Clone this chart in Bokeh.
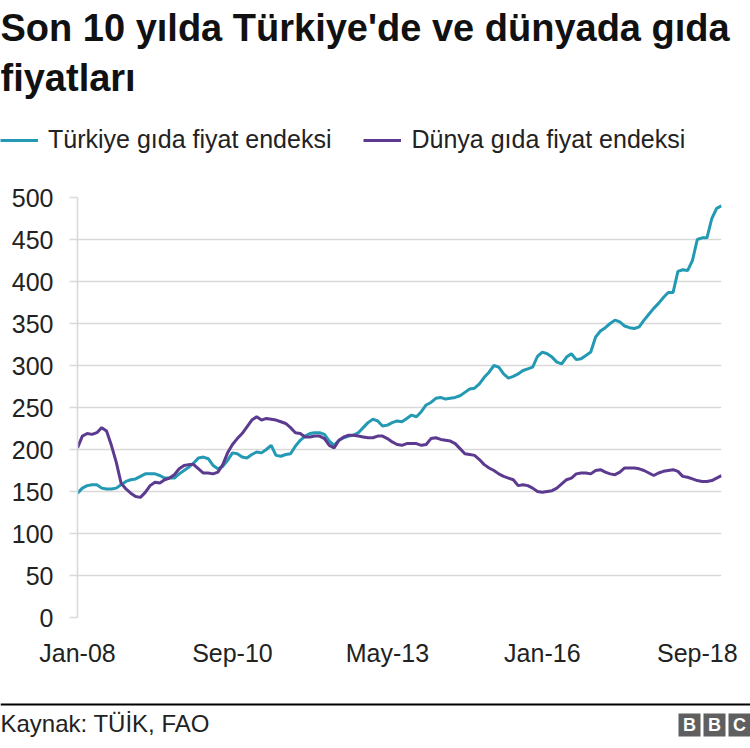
from bokeh.plotting import figure
from bokeh.models import Range1d, FixedTicker, Label, BoxAnnotation, Span
from bokeh.layouts import column
from bokeh.embed import file_html
from bokeh.resources import INLINE

# ---- data (monthly, Jan-08 .. Feb-19) ----
turkiye = [148, 154, 157, 158, 158, 154, 153, 153, 154, 158, 162, 164, 165, 168, 171, 171, 171, 169, 166, 166,
           166, 171, 175, 179, 184, 190, 191, 189, 181, 177, 180, 187, 196, 195, 191, 190, 194, 197, 196, 200,
           205, 193, 192, 194, 195, 204, 211, 216, 219, 220, 220, 218, 210, 205, 211, 214, 216, 217, 220, 226,
           232, 236, 234, 228, 229, 232, 234, 233, 237, 241, 239, 245, 253, 256, 261, 262, 260, 261, 262, 264,
           268, 272, 273, 278, 286, 292, 300, 298, 290, 285, 287, 290, 294, 296, 298, 311, 316, 314, 310, 304,
           302, 310, 314, 307, 308, 312, 316, 334, 341, 345, 350, 354, 352, 347, 345, 344, 346, 354, 361, 368,
           374, 381, 387, 387, 412, 414, 413, 425, 450, 452, 452, 475, 487, 490]
dunya = [202, 216, 219, 218, 220, 226, 222, 205, 185, 160, 153, 148, 144, 143, 149, 157, 161, 160, 164, 166,
         170, 177, 181, 182, 182, 177, 172, 172, 171, 173, 182, 196, 206, 213, 219, 227, 235, 239, 235, 237,
         236, 235, 233, 231, 226, 220, 219, 215, 215, 216, 216, 213, 205, 202, 211, 215, 217, 217, 216, 215,
         214, 214, 216, 216, 213, 209, 206, 205, 207, 207, 207, 205, 206, 213, 214, 212, 211, 210, 207, 201,
         195, 194, 193, 188, 182, 178, 175, 171, 168, 166, 164, 157, 158, 157, 154, 150, 149, 150, 151, 154,
         159, 164, 166, 171, 172, 172, 171, 175, 176, 173, 171, 170, 173, 178, 178, 178, 177, 175, 172, 169,
         172, 174, 175, 176, 174, 168, 167, 165, 163, 162, 162, 163, 166, 169]
months = list(range(len(turkiye)))
tick_months = [0, 32, 64, 96, 128]
tick_labels = ["Jan-08", "Sep-10", "May-13", "Jan-16", "Sep-18"]
y_ticks = [0, 50, 100, 150, 200, 250, 300, 350, 400, 450, 500]
series_names = ["Türkiye gıda fiyat endeksi", "Dünya gıda fiyat endeksi"]
title_lines = ["Son 10 yılda Türkiye'de ve dünyada gıda", "fiyatları"]
source_text = "Kaynak: TÜİK, FAO"

CYAN = "#2399b4"
PURPLE = "#5c3a8f"
GRID = "#d9d9d9"
FONT = "Liberation Sans"
TXT = "#222222"
NAN = float("nan")

W = 750
HEAD_H, MAIN_H, FOOT_H = 177, 506, 65


def blank(h):
    f = figure(width=W, height=h, output_backend="svg", toolbar_location=None,
               x_range=Range1d(0, W), y_range=Range1d(0, h),
               x_axis_type=None, y_axis_type=None, min_border=0)
    f.frame_align = False
    f.outline_line_color = None
    f.grid.visible = False
    f.background_fill_color = "white"
    f.border_fill_color = "white"
    return f


# ---- header: title + legend ----
head = blank(HEAD_H)
head.add_layout(Label(x=0, y=HEAD_H - 27, text=title_lines[0], text_font=FONT, text_font_size="38px",
                      text_font_style="bold", text_color="#111111", text_baseline="middle"))
head.add_layout(Label(x=0, y=HEAD_H - 77, text=title_lines[1], text_font=FONT, text_font_size="38px",
                      text_font_style="bold", text_color="#111111", text_baseline="middle"))
head.line(x=[NAN], y=[NAN], line_color=CYAN, line_width=3, legend_label=series_names[0])
head.line(x=[NAN], y=[NAN], line_color=PURPLE, line_width=3, legend_label=series_names[1])
lg = head.legend[0]
lg.orientation = "horizontal"
lg.location = (0, 23)
lg.glyph_width = 38
lg.glyph_height = 20
lg.label_standoff = 10
lg.spacing = 32
lg.padding = 0
lg.margin = 0
lg.border_line_color = None
lg.background_fill_alpha = 0
lg.label_text_font = FONT
lg.label_text_font_size = "25px"
lg.label_text_color = TXT

# ---- main chart ----
p = figure(width=W, height=MAIN_H, output_backend="svg", toolbar_location=None,
           x_range=Range1d(0, len(months) - 1), y_range=Range1d(0, 500),
           min_border_left=77, min_border_right=29, min_border_top=20, min_border_bottom=66)
p.frame_align = False
p.outline_line_color = None
p.background_fill_color = "white"
p.border_fill_color = "white"

p.line(months, turkiye, line_color=CYAN, line_width=3)
p.line(months, dunya, line_color=PURPLE, line_width=3)

p.xgrid.visible = False
p.ygrid.ticker = FixedTicker(ticks=y_ticks)
p.ygrid.grid_line_color = GRID
p.ygrid.grid_line_width = 1.6

yax = p.yaxis[0]
yax.ticker = FixedTicker(ticks=y_ticks)
yax.axis_line_color = GRID
yax.axis_line_width = 1.6
yax.major_tick_line_color = GRID
yax.major_tick_line_width = 1.6
yax.major_tick_in = 0
yax.major_tick_out = 8
yax.minor_tick_line_color = None
yax.major_label_standoff = 16
yax.major_label_text_font = FONT
yax.major_label_text_font_size = "25px"
yax.major_label_text_color = TXT

xax = p.xaxis[0]
xax.ticker = FixedTicker(ticks=tick_months)
xax.major_label_overrides = {m: l for m, l in zip(tick_months, tick_labels)}
xax.axis_line_color = None
xax.major_tick_line_color = None
xax.minor_tick_line_color = None
xax.major_tick_in = 0
xax.major_tick_out = 0
xax.major_label_standoff = 21
xax.major_label_text_font = FONT
xax.major_label_text_font_size = "25px"
xax.major_label_text_color = TXT

# ---- footer: source + BBC logo ----
foot = blank(FOOT_H)
foot.add_layout(Span(location=FOOT_H - 21, dimension="width", line_color="#000000", line_width=2))
foot.add_layout(Label(x=0, y=FOOT_H - 40, text=source_text, text_font=FONT, text_font_size="24px",
                      text_color=TXT, text_baseline="middle"))
for i, ch in enumerate("BBC"):
    x0 = 678 + i * 25
    foot.add_layout(BoxAnnotation(left=x0, right=x0 + 22, top=FOOT_H - 30, bottom=FOOT_H - 53,
                                  fill_color="#5f5f5f", fill_alpha=1, line_alpha=0))
    foot.add_layout(Label(x=x0 + 11, y=FOOT_H - 41.5, text=ch, text_font=FONT, text_font_size="18px",
                          text_font_style="bold", text_color="white", text_align="center",
                          text_baseline="middle"))

layout = column(head, p, foot, spacing=0)
open("out.html", "w", encoding="utf-8").write(file_html(layout, INLINE))
